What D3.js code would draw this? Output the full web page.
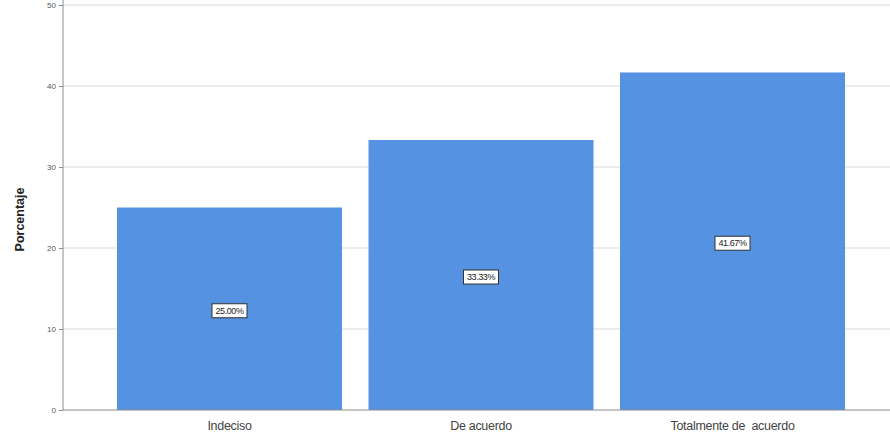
<!DOCTYPE html>
<html>
<head>
<meta charset="utf-8">
<script src="https://cdn.jsdelivr.net/npm/d3@7"></script>
<style>
  html, body { margin: 0; padding: 0; background: #fff; }
  svg { display: block; }
</style>
</head>
<body>
<svg id="chart" width="890" height="438"></svg>
<script>
// Responses and their share of the total
const categories = ["Indeciso", "De acuerdo", "Totalmente de  acuerdo"];
const percentages = [25.00, 33.33, 41.67];
const valueLabels = ["25.00%", "33.33%", "41.67%"];
const yTicks = [0, 10, 20, 30, 40, 50];

const svg = d3.select("#chart");
const W = 890, H = 438;
const plotLeft = 63, plotBottom = 410, plotTop = 5;

const x = d3.scaleBand()
  .domain(categories)
  .range([plotLeft, 899])
  .paddingInner(0.1054)
  .paddingOuter(0.2147);

const y = d3.scaleLinear().domain([0, 50]).range([plotBottom, plotTop]);

// horizontal grid lines
svg.append("g")
  .selectAll("line")
  .data(yTicks.filter(t => t > 0))
  .join("line")
  .attr("x1", plotLeft).attr("x2", W)
  .attr("y1", d => y(d)).attr("y2", d => y(d))
  .attr("stroke", "#d9d9d9").attr("stroke-width", 1);

// bars
svg.append("g")
  .selectAll("rect")
  .data(categories)
  .join("rect")
  .attr("x", d => x(d))
  .attr("width", x.bandwidth())
  .attr("y", (d, i) => y(percentages[i]))
  .attr("height", (d, i) => y(0) - y(percentages[i]))
  .attr("fill", "#5592e2");

// y axis
const yAxis = svg.append("g")
  .attr("transform", `translate(${plotLeft},0)`)
  .call(d3.axisLeft(y).tickValues(yTicks).tickSize(4).tickPadding(3).tickFormat(d3.format("d")));
yAxis.select(".domain").attr("stroke", "#8c8c8c").attr("d", `M0,0V${plotBottom}`);
yAxis.selectAll(".tick line").attr("stroke", "#8c8c8c");
yAxis.selectAll(".tick text")
  .attr("font-family", "Arial, 'Liberation Sans', sans-serif")
  .attr("font-size", 8).attr("fill", "#555");

// x baseline and category labels
const xAxis = svg.append("g")
  .attr("transform", `translate(0,${plotBottom})`)
  .call(d3.axisBottom(x).tickSize(0).tickPadding(11));
xAxis.select(".domain").attr("stroke", "#8c8c8c").attr("d", `M${plotLeft},0H${W}`);
xAxis.selectAll(".tick text")
  .attr("font-family", "Arial, 'Liberation Sans', sans-serif")
  .attr("font-size", 12.5).attr("fill", "#444")
  .style("white-space", "pre")
  .style("letter-spacing", "-0.3px");

// axis title
svg.append("text")
  .attr("transform", `translate(24,${(plotTop + plotBottom) / 2 + 12}) rotate(-90)`)
  .attr("text-anchor", "middle")
  .attr("font-family", "Arial, 'Liberation Sans', sans-serif")
  .attr("font-weight", "bold")
  .attr("font-size", 12.5)
  .attr("fill", "#222")
  .text("Porcentaje");

// value labels in boxes at half bar height
const lbl = svg.append("g")
  .selectAll("g")
  .data(categories)
  .join("g")
  .attr("transform", (d, i) => `translate(${x(d) + x.bandwidth() / 2},${y(percentages[i] / 2) + 2})`);
lbl.append("rect")
  .attr("x", -17.5).attr("y", -7).attr("width", 35).attr("height", 14)
  .attr("fill", "#fff").attr("stroke", "#333").attr("stroke-width", 1);
lbl.append("text")
  .attr("text-anchor", "middle").attr("dy", "0.35em")
  .attr("font-family", "Arial, 'Liberation Sans', sans-serif")
  .attr("font-size", 9).attr("fill", "#222")
  .style("letter-spacing", "-0.4px")
  .text((d, i) => valueLabels[i]);
</script>
</body>
</html>
